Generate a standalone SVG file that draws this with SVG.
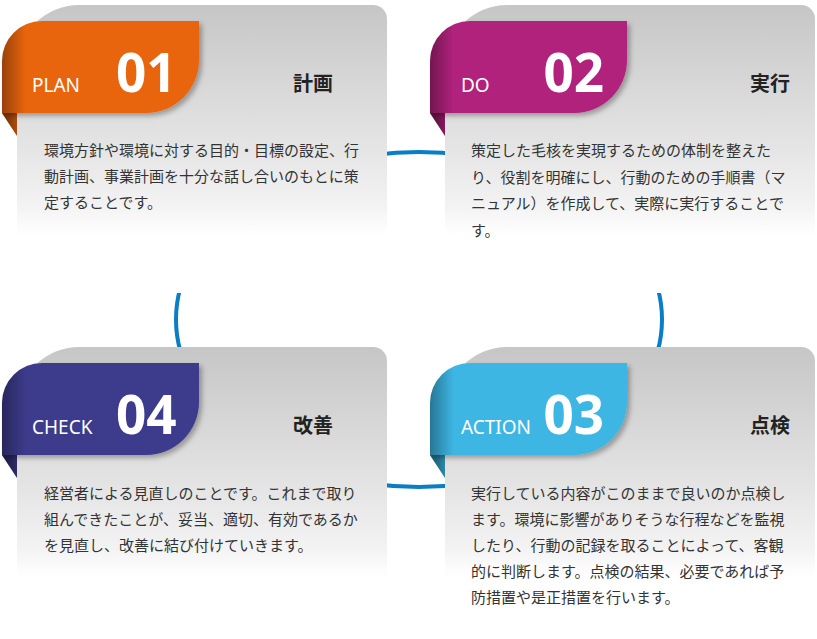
<svg xmlns="http://www.w3.org/2000/svg" width="817" height="639" viewBox="0 0 817 639">
<style>
.card{fill:url(#cardGrad)}
.lbl{font-family:"Noto Sans","Liberation Sans",sans-serif;font-size:19px;fill:#fff}
.num{font-family:"Noto Sans","Liberation Sans",sans-serif;font-size:53px;font-weight:bold;fill:#fff}
.ttl{font-family:"Noto Sans CJK JP","Noto Sans",sans-serif;font-size:20px;font-weight:bold;fill:#222}
.body{font-family:"Noto Sans CJK JP","Noto Sans",sans-serif;font-size:15px;fill:#333}
.conn{fill:none;stroke:#0a7dc7;stroke-width:4}
</style>
<defs>
<linearGradient id="cardGrad" x1="0" y1="0" x2="0" y2="1">
<stop offset="0" stop-color="#c6c6c6"/>
<stop offset="0.3" stop-color="#d9d9d9"/>
<stop offset="0.5" stop-color="#e5e5e5"/>
<stop offset="0.7" stop-color="#f3f3f3"/>
<stop offset="0.8" stop-color="#ffffff"/>
</linearGradient>
<linearGradient id="shade" x1="0" y1="0" x2="1" y2="0">
<stop offset="0" stop-color="#000" stop-opacity="0.35"/>
<stop offset="0.12" stop-color="#000" stop-opacity="0"/>
</linearGradient>
<linearGradient id="foldShade" x1="0" y1="0" x2="1" y2="0">
<stop offset="0" stop-color="#000" stop-opacity="0.55"/>
<stop offset="1" stop-color="#000" stop-opacity="0.25"/>
</linearGradient>
<filter id="shadow" x="-10%" y="-10%" width="130%" height="130%">
<feDropShadow dx="3" dy="3" stdDeviation="2.5" flood-color="#000" flood-opacity="0.3"/>
</filter>
<path id="cardShape" d="M0,288 L0,62 A62,62 0 0 1 62,0 L356,0 A14,14 0 0 1 370,14 L370,288 Z"/>
<path id="tabShape" d="M0,92 L0,40 A40,40 0 0 1 40,0 L197,0 L197,39 A53,53 0 0 1 144,92 Z"/>
<path id="foldShape" d="M0,92 L15,92 L15,115 Z"/>
</defs>

<g id="connectors">
<ellipse class="conn" cx="419" cy="319.5" rx="243" ry="167.5"/>
</g>

<g id="node-plan">
<use href="#cardShape" class="card" transform="translate(17,5)"/>
<g transform="translate(2,21)">
<use href="#foldShape" fill="#e9650f"/>
<use href="#foldShape" fill="url(#foldShade)"/>
<use href="#tabShape" fill="#e9650f" filter="url(#shadow)"/>
<use href="#tabShape" fill="url(#shade)"/>
</g>
<text class="lbl" x="32" y="92">PLAN</text>
<text class="num" x="116" y="92">01</text>
<text class="ttl" x="293" y="91">計画</text>
<text class="body" x="44" y="156">環境方針や環境に対する目的・目標の設定、行</text>
<text class="body" x="44" y="182">動計画、事業計画を十分な話し合いのもとに策</text>
<text class="body" x="44" y="208">定することです。</text>
</g>

<g id="node-do">
<use href="#cardShape" class="card" transform="translate(445,5)"/>
<g transform="translate(430,21)">
<use href="#foldShape" fill="#b0217b"/>
<use href="#foldShape" fill="url(#foldShade)"/>
<use href="#tabShape" fill="#b0217b" filter="url(#shadow)"/>
<use href="#tabShape" fill="url(#shade)"/>
</g>
<text class="lbl" x="461" y="92">DO</text>
<text class="num" x="543.5" y="92">02</text>
<text class="ttl" x="750" y="91">実行</text>
<text class="body" x="471" y="156">策定した毛核を実現するための体制を整えた</text>
<text class="body" x="471" y="182.5">り、役割を明確にし、行動のための手順書（マ</text>
<text class="body" x="471" y="209">ニュアル）を作成して、実際に実行することで</text>
<text class="body" x="471" y="235.5">す。</text>
</g>

<g id="node-check">
<use href="#cardShape" class="card" transform="translate(17,347)"/>
<g transform="translate(2,363)">
<use href="#foldShape" fill="#3e3a8b"/>
<use href="#foldShape" fill="url(#foldShade)"/>
<use href="#tabShape" fill="#3e3a8b" filter="url(#shadow)"/>
<use href="#tabShape" fill="url(#shade)"/>
</g>
<text class="lbl" x="32" y="434">CHECK</text>
<text class="num" x="116" y="434">04</text>
<text class="ttl" x="293" y="433">改善</text>
<text class="body" x="44" y="499">経営者による見直しのことです。これまで取り</text>
<text class="body" x="44" y="525">組んできたことが、妥当、適切、有効であるか</text>
<text class="body" x="44" y="551">を見直し、改善に結び付けていきます。</text>
</g>

<g id="node-action">
<use href="#cardShape" class="card" transform="translate(445,347)"/>
<g transform="translate(430,363)">
<use href="#foldShape" fill="#3cb6e3"/>
<use href="#foldShape" fill="url(#foldShade)"/>
<use href="#tabShape" fill="#3cb6e3" filter="url(#shadow)"/>
<use href="#tabShape" fill="url(#shade)"/>
</g>
<text class="lbl" x="461" y="434">ACTION</text>
<text class="num" x="543.5" y="434">03</text>
<text class="ttl" x="750" y="433">点検</text>
<text class="body" x="471" y="499">実行している内容がこのままで良いのか点検し</text>
<text class="body" x="471" y="525">ます。環境に影響がありそうな行程などを監視</text>
<text class="body" x="471" y="551">したり、行動の記録を取ることによって、客観</text>
<text class="body" x="471" y="577">的に判断します。点検の結果、必要であれば予</text>
<text class="body" x="471" y="603">防措置や是正措置を行います。</text>
</g>
</svg>
